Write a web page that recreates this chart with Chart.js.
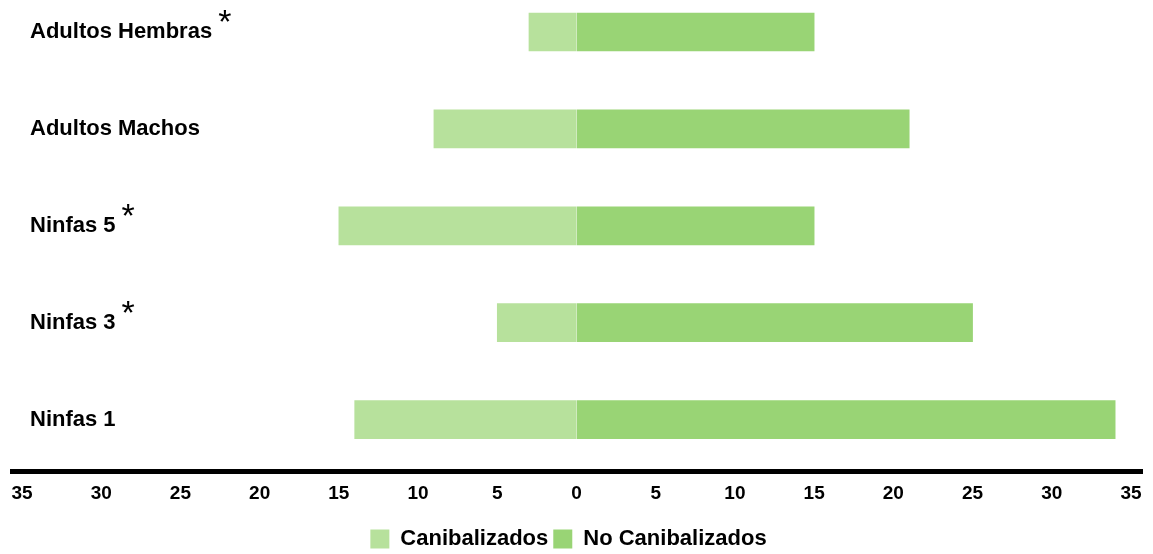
<!DOCTYPE html>
<html>
<head>
<meta charset="utf-8">
<script src="https://cdn.jsdelivr.net/npm/chart.js@4/dist/chart.umd.min.js"></script>
<style>
  html, body { margin: 0; padding: 0; background: #ffffff; }
  #wrap { width: 1153px; height: 554px; position: relative; }
</style>
</head>
<body>
<div id="wrap"><canvas id="chart"></canvas></div>
<script>
// Stage categories (top to bottom)
const categories = ['Adultos Hembras', 'Adultos Machos', 'Ninfas 5', 'Ninfas 3', 'Ninfas 1'];
// Counts per stage
const canibalizados = [3, 9, 15, 5, 14];
const noCanibalizados = [15, 21, 15, 25, 34];
// Stages marked as significant
const significant = [true, false, true, true, false];
// Axis range and step
const axisMin = -35;
const axisMax = 35;
const axisStep = 5;

const FONT = "'Liberation Sans', Arial, sans-serif";
const LIGHT = '#b7e19c';
const DARK = '#99d475';

// Thick black baseline under the bars
const baselinePlugin = {
  id: 'baseline',
  afterDraw(chart) {
    const { ctx, chartArea } = chart;
    const y = chartArea.bottom + 52;
    ctx.save();
    ctx.strokeStyle = '#000';
    ctx.lineWidth = 5;
    ctx.beginPath();
    ctx.moveTo(chartArea.left - 12, y);
    ctx.lineTo(chartArea.right + 12, y);
    ctx.stroke();
    ctx.restore();
  }
};

// Asterisks next to significant stage labels
const asteriskPlugin = {
  id: 'asterisks',
  afterDraw(chart) {
    const { ctx } = chart;
    const yScale = chart.scales.y;
    const pad = yScale.options.ticks.padding;
    const labelX = yScale.right + pad;
    ctx.save();
    ctx.font = 'bold 22px ' + FONT;
    const widths = categories.map(c => ctx.measureText(c).width);
    ctx.font = '34px ' + FONT;
    ctx.fillStyle = '#000';
    ctx.textBaseline = 'alphabetic';
    ctx.textAlign = 'left';
    categories.forEach((c, i) => {
      if (!significant[i]) return;
      const y = yScale.getPixelForValue(i);
      ctx.fillText('*', labelX + widths[i] + 6, y + 1);
    });
    ctx.restore();
  }
};

new Chart(document.getElementById('chart'), {
  type: 'bar',
  data: {
    labels: categories,
    datasets: [
      {
        label: 'Canibalizados',
        data: canibalizados.map(v => -v),
        backgroundColor: LIGHT,
        borderWidth: 0,
        barThickness: 38,
        clip: false
      },
      {
        label: 'No Canibalizados',
        data: noCanibalizados,
        backgroundColor: DARK,
        borderWidth: 0,
        barThickness: 38,
        clip: false
      }
    ]
  },
  options: {
    indexAxis: 'y',
    responsive: true,
    maintainAspectRatio: false,
    animation: false,
    layout: { padding: { top: 32, left: 6, right: 22, bottom: -6 } },
    plugins: {
      tooltip: { enabled: false },
      legend: {
        position: 'bottom',
        labels: {
          boxWidth: 19,
          boxHeight: 19,
          padding: 5,
          color: '#000',
          font: { family: FONT, size: 22, weight: 'bold' }
        }
      }
    },
    scales: {
      x: {
        stacked: true,
        min: axisMin,
        max: axisMax,
        grid: {
          display: true,
          drawOnChartArea: false,
          drawTicks: true,
          tickLength: 61,
          color: 'rgba(0,0,0,0)'
        },
        border: { display: false },
        title: {
          display: true,
          text: ' ',
          padding: 0,
          font: { family: FONT, size: 13 }
        },
        ticks: {
          stepSize: axisStep,
          padding: 2,
          color: '#000',
          font: { family: FONT, size: 19, weight: 'bold' },
          maxRotation: 0,
          autoSkip: false,
          callback: v => Math.abs(v)
        }
      },
      y: {
        stacked: true,
        offset: false,
        grid: { display: false, drawTicks: false },
        border: { display: false },
        ticks: {
          mirror: true,
          padding: 8,
          color: '#000',
          font: { family: FONT, size: 22, weight: 'bold' }
        }
      }
    }
  },
  plugins: [baselinePlugin, asteriskPlugin]
});
</script>
</body>
</html>
